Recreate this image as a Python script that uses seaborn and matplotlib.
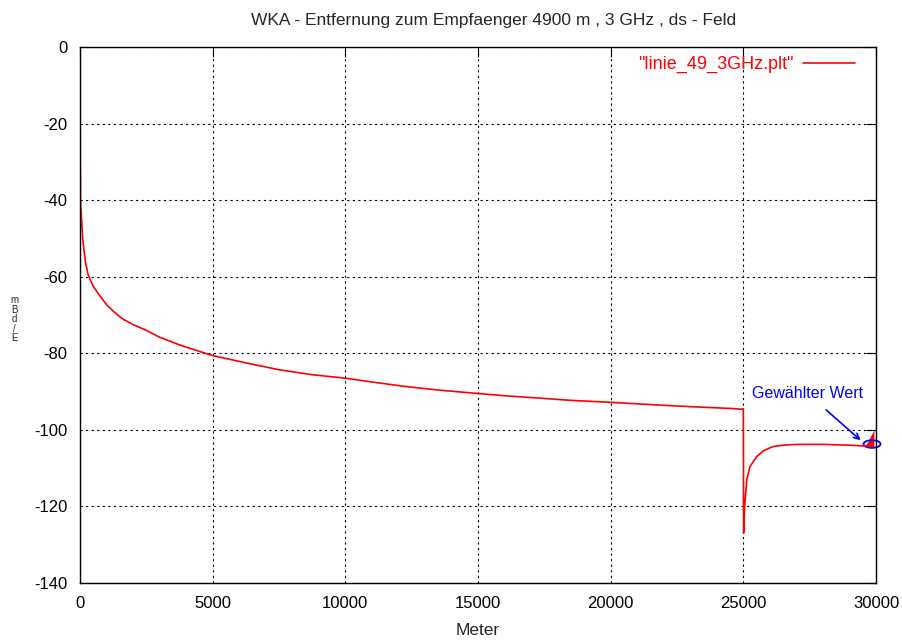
import matplotlib
matplotlib.use("Agg")
import matplotlib.pyplot as plt
from matplotlib.patches import Ellipse
from matplotlib.lines import Line2D
import pandas as pd
import seaborn as sns

# Distance along the path (m) and received field level (dBm)
distance_m = [0, 10, 20, 100, 200, 300, 400, 500, 750, 1000, 1250, 1600,
              2000, 2500, 3000, 3750, 4500, 5000, 6250, 7500, 8750, 10000,
              11000, 12300, 13500, 15000, 16000, 17300, 18500, 20000, 21000,
              22300, 23500, 24500, 24950, 25000, 25010, 25050, 25130, 25250,
              25500, 25750, 26100, 26500, 27000, 28000, 28500, 29000, 29500,
              29850]
level_dbm = [-7, -29, -40.5, -50, -56, -59.3, -61, -62.5, -65, -67.3, -69,
             -71, -72.5, -74, -75.8, -77.8, -79.5, -80.6, -82.5, -84.3, -85.6,
             -86.5, -87.5, -88.7, -89.6, -90.5, -91.1, -91.7, -92.3, -92.8,
             -93.2, -93.7, -94.1, -94.4, -94.6, -94.5, -127, -120, -113,
             -109.6, -107, -105.5, -104.4, -104, -103.8, -103.8, -103.9, -104,
             -104.2, -104.3]

# Oscillating samples at the very end of the path
spike_x = [29600, 29700, 29800, 29920]
spike_top = [-104.0, -103.0, -101.6, -100.0]
spike_low = [-104.4, -104.4, -104.4, -104.4]

# Chosen value marker
chosen_x, chosen_y = 29850, -103.7

x_ticks = [0, 5000, 10000, 15000, 20000, 25000, 30000]
y_ticks = [-140, -120, -100, -80, -60, -40, -20, 0]

sns.set_style("white")
plt.rcParams["font.family"] = ["Liberation Sans", "DejaVu Sans"]
plt.rcParams["axes.unicode_minus"] = False

df = pd.DataFrame({"Meter": distance_m, "E/dBm": level_dbm})

fig = plt.figure(figsize=(9.03, 6.40), dpi=100)
ax = fig.add_axes([80 / 903, 57 / 640, 796 / 903, 536 / 640])

sns.lineplot(data=df, x="Meter", y="E/dBm", color="#ff0000", linewidth=1.2,
             ax=ax, legend=False)
ax.fill_between(spike_x, spike_low, spike_top, color="#ff0000", lw=0)

ax.set_xlim(0, 30000)
ax.set_ylim(-140, 0)
ax.set_xticks(x_ticks)
ax.set_yticks(y_ticks)
ax.tick_params(axis="both", direction="in", length=7, width=0.8,
               top=True, right=True, labelsize=12, colors="black", pad=9)
for s in ax.spines.values():
    s.set_color("black")
    s.set_linewidth(1.0)

ax.grid(True, color="black", linestyle=(0, (2, 3)), linewidth=0.8)

ax.set_title("WKA - Entfernung zum Empfaenger 4900 m , 3 GHz , ds - Feld",
             fontsize=12.5, pad=16, x=0.519)
ax.set_xlabel("Meter", fontsize=12.5, labelpad=9)
# Axis name with upright characters stacked bottom-to-top
ax.set_ylabel("\n".join(reversed("E/dBm")), fontsize=7, rotation=0,
              ha="center", va="center", linespacing=0.95)
ax.yaxis.set_label_coords(-0.082, 0.492)

# Legend with red key text and the line sample on the right
handle = Line2D([0], [0], color="#ff0000", linewidth=1.2)
leg = ax.legend([handle], ['"linie_49_3GHz.plt"'], loc="upper right",
                bbox_to_anchor=(0.99, 1.007), frameon=False,
                markerfirst=False, fontsize=13, handlelength=2.9,
                handletextpad=0.5, borderaxespad=0.3, borderpad=0.4)
for t in leg.get_texts():
    t.set_color("#ff0000")

# Annotation of the chosen value
ax.add_patch(Ellipse((chosen_x, chosen_y), 640, 2.0, fill=False,
                     edgecolor="#0000ff", linewidth=1.3, clip_on=False))
ax.annotate("", xy=(29500, -103.2), xytext=(28040, -94.3),
            arrowprops=dict(arrowstyle="->", color="#0000ff", lw=1.2))
ax.text(25330, -90.4, "Gewählter Wert", color="#0000ff", fontsize=11.5,
        va="center", ha="left")

fig.savefig("out.png", dpi=100)
